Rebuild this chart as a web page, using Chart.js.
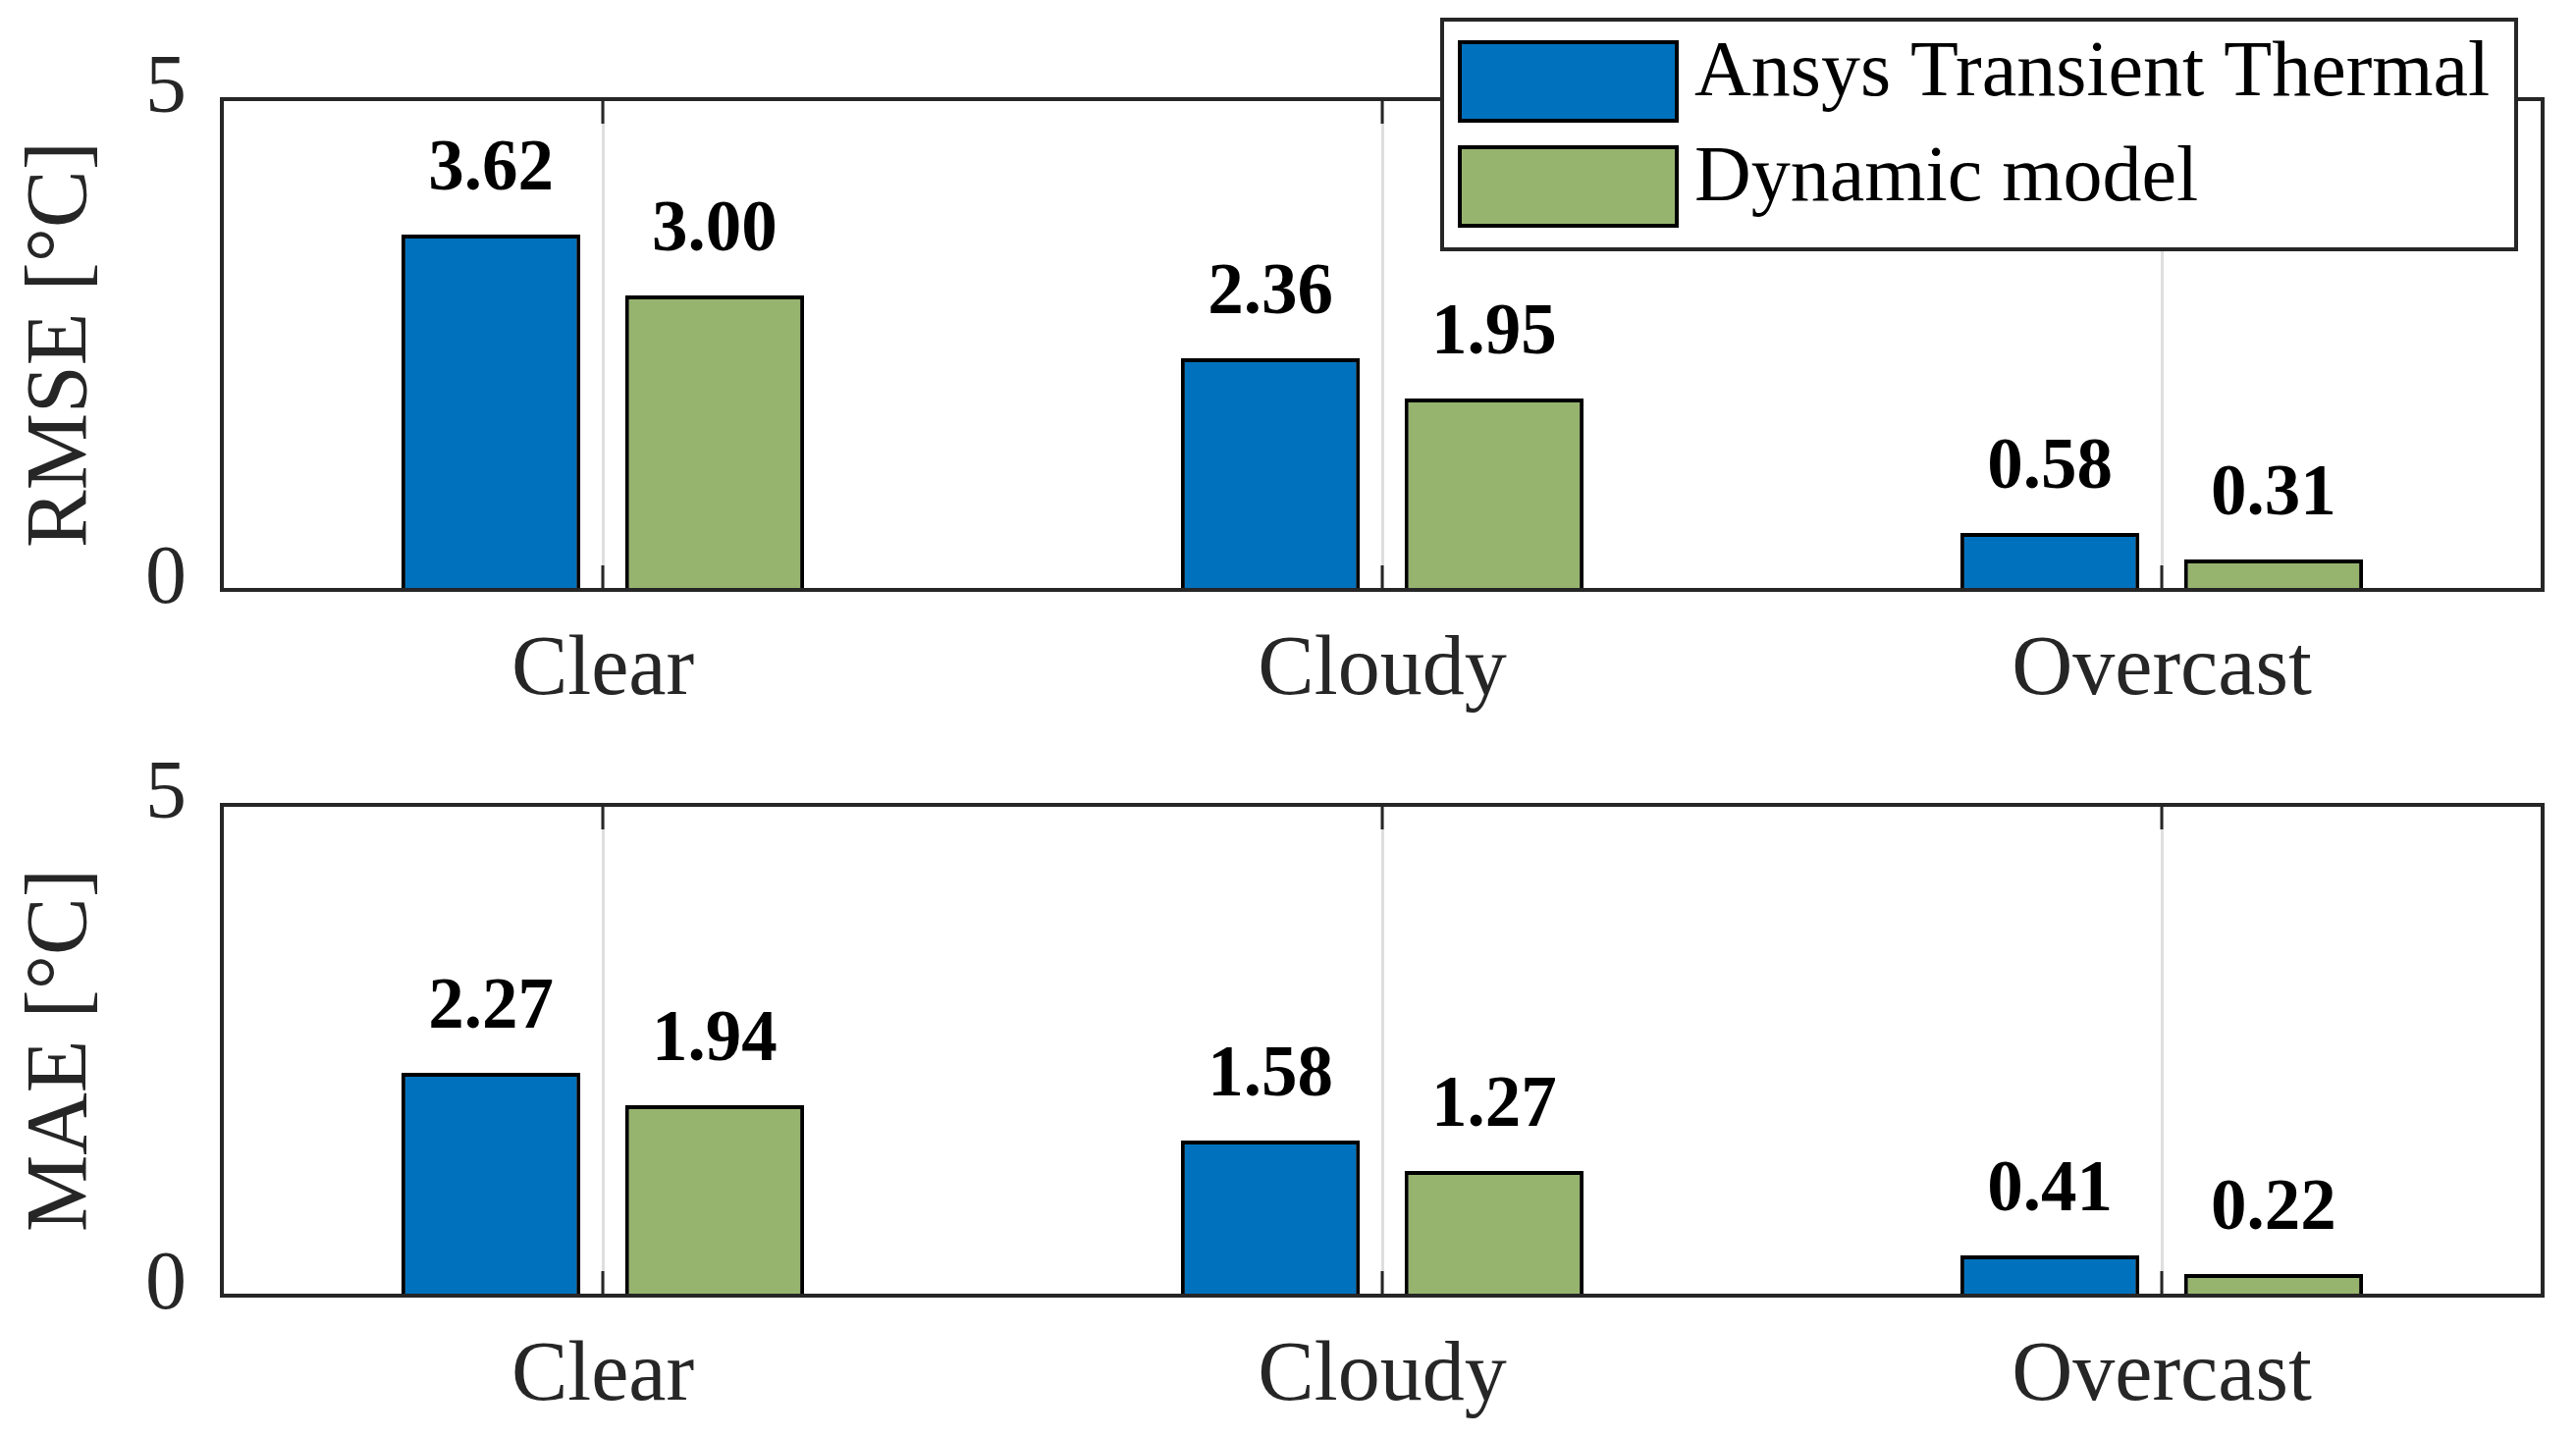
<!DOCTYPE html>
<html>
<head>
<meta charset="utf-8">
<script src="https://cdn.jsdelivr.net/npm/chart.js@4.4.1/dist/chart.umd.min.js"></script>
<style>
  html, body { margin: 0; padding: 0; background: #fff; }
  #wrap { position: relative; width: 2624px; height: 1463px; }
  canvas { position: absolute; left: 0; }
  #top { top: 0; }
  #bot { top: 731px; }
</style>
</head>
<body>
<div id="wrap">
  <canvas id="top" width="2624" height="731"></canvas>
  <canvas id="bot" width="2624" height="732"></canvas>
</div>
<script>
/* --- dados --- */
const conditions  = ['Clear', 'Cloudy', 'Overcast'];
const seriesNames = ['Ansys Transient Thermal', 'Dynamic model'];
const rmseAnsys   = [3.62, 2.36, 0.58];
const rmseDynamic = [3.00, 1.95, 0.31];
const maeAnsys    = [2.27, 1.58, 0.41];
const maeDynamic  = [1.94, 1.27, 0.22];
const yTicks      = [0, 5];

const BLUE  = '#0072BD';
const GREEN = '#97B46F';
const AXIS  = '#262626';
const FONT  = '"Liberation Serif", "DejaVu Serif", serif';
const INSET = 9;   // a caixa fica um pouco para dentro da área das categorias

/* --- moldura da caixa + marcas internas nas categorias --- */
const frame = {
  id: 'frame',
  afterDatasetsDraw(chart) {
    const { ctx, chartArea: a } = chart;
    const x = chart.scales.x;
    ctx.save();
    ctx.strokeStyle = AXIS;
    ctx.lineWidth = 3;
    x.ticks.forEach((t, i) => {
      const px = x.getPixelForTick(i);
      ctx.beginPath();
      ctx.moveTo(px, a.top);    ctx.lineTo(px, a.top + 25);
      ctx.moveTo(px, a.bottom); ctx.lineTo(px, a.bottom - 25);
      ctx.stroke();
    });
    ctx.lineWidth = 4;
    ctx.strokeRect(a.left + INSET, a.top, a.width - 2 * INSET, a.height);
    ctx.restore();
  }
};

/* --- valores em cima das barras --- */
const valueLabels = {
  id: 'valueLabels',
  afterDatasetsDraw(chart) {
    const ctx = chart.ctx;
    ctx.save();
    ctx.font = 'bold 73px ' + FONT;
    ctx.fillStyle = '#000';
    ctx.textAlign = 'center';
    ctx.textBaseline = 'middle';
    chart.data.datasets.forEach((ds, i) => {
      chart.getDatasetMeta(i).data.forEach((bar, j) => {
        ctx.fillText(ds.data[j].toFixed(2), bar.x, bar.y - 65);
      });
    });
    ctx.restore();
  }
};

/* --- legenda em caixa (só no gráfico de cima) --- */
const boxLegend = {
  id: 'boxLegend',
  afterDraw(chart, args, opts) {
    if (!opts.show) return;
    const ctx = chart.ctx;
    ctx.save();
    ctx.fillStyle = '#fff';
    ctx.fillRect(1469, 20, 1094, 234);
    ctx.strokeStyle = AXIS;
    ctx.lineWidth = 4;
    ctx.strokeRect(1469, 20, 1094, 234);
    ctx.font = '80px ' + FONT;
    ctx.textBaseline = 'middle';
    chart.data.datasets.forEach((ds, i) => {
      const y = 43 + i * 107;
      ctx.fillStyle = ds.backgroundColor;
      ctx.fillRect(1487, y, 221, 80);
      ctx.strokeStyle = '#000';
      ctx.lineWidth = 4;
      ctx.strokeRect(1487, y, 221, 80);
      ctx.fillStyle = '#000';
      ctx.fillText(ds.label, 1726, y + 33);
    });
    ctx.restore();
  }
};

function makeChart(id, title, ansys, dynamic, padTop, xHeight, legend) {
  return new Chart(document.getElementById(id), {
    type: 'bar',
    data: {
      labels: conditions,
      datasets: [
        { label: seriesNames[0], data: ansys,   backgroundColor: BLUE,  borderColor: '#000', borderWidth: 4,
          categoryPercentage: 0.574, barPercentage: 0.8 },
        { label: seriesNames[1], data: dynamic, backgroundColor: GREEN, borderColor: '#000', borderWidth: 4,
          categoryPercentage: 0.574, barPercentage: 0.8 },
      ],
    },
    options: {
      responsive: false,
      animation: false,
      devicePixelRatio: 1,
      layout: { padding: { top: padTop, right: 25, left: 0, bottom: 0 } },
      plugins: {
        legend: { display: false },
        tooltip: { enabled: false },
        boxLegend: { show: legend },
      },
      scales: {
        x: {
          offset: true,
          grid: { display: true, offset: false, color: '#dedede', lineWidth: 3, drawTicks: false },
          border: { display: false },
          ticks: { color: AXIS, padding: 32, font: { family: FONT, size: 86 } },
          afterFit: s => { s.height = xHeight; },
        },
        y: {
          min: 0,
          max: 5,
          afterBuildTicks: s => { s.ticks = yTicks.map(v => ({ value: v })); },
          grid: { display: false, drawTicks: false },
          border: { display: false },
          ticks: { color: AXIS, padding: 27, labelOffset: -9, font: { family: FONT, size: 84 } },
          title: {
            display: true,
            text: title,
            color: AXIS,
            padding: { top: 11, bottom: 0 },
            font: { family: FONT, size: 88 },
          },
          afterFit: s => { s.width = 217; },
        },
      },
    },
    plugins: [frame, valueLabels, boxLegend],
  });
}

makeChart('top', 'RMSE [°C]', rmseAnsys, rmseDynamic, 101, 130, true);
makeChart('bot', 'MAE [°C]',  maeAnsys,  maeDynamic,  89,  143, false);
</script>
</body>
</html>
